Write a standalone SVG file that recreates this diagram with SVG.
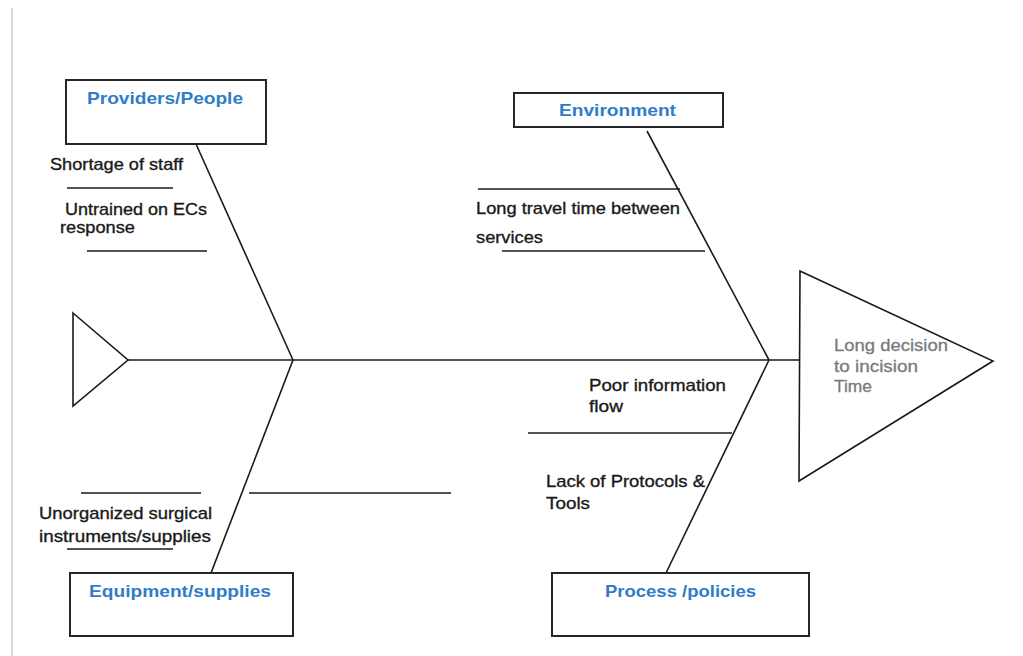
<svg xmlns="http://www.w3.org/2000/svg" width="1023" height="656" viewBox="0 0 1023 656">
<style>
.box{fill:#fff;stroke:#262626;stroke-width:2}
.ln{stroke:#1a1a1a;stroke-width:1.6;fill:none}
.t{font-family:"Liberation Sans",Arial,sans-serif;font-size:17px;fill:#1a1a1a;stroke:#1a1a1a;stroke-width:0.35}
.h{font-family:"Liberation Sans",Arial,sans-serif;font-size:17px;font-weight:bold;fill:#2f7dc6}
.g{font-family:"Liberation Sans",Arial,sans-serif;font-size:17px;fill:#7a7a7a;stroke:#7a7a7a;stroke-width:0.3}
</style>
<rect width="1023" height="656" fill="#fff"/>
<line x1="12" y1="8" x2="12" y2="656" stroke="#d9d9d9" stroke-width="2"/>
<g id="connectors">
<line class="ln" x1="128" y1="360" x2="800" y2="360"/>
<line class="ln" x1="196" y1="144" x2="293" y2="360"/>
<line class="ln" x1="293" y1="360" x2="211" y2="573"/>
<line class="ln" x1="647" y1="131" x2="769" y2="360"/>
<line class="ln" x1="769" y1="360" x2="666" y2="573"/>
<line class="ln" x1="67" y1="188" x2="173" y2="188"/>
<line class="ln" x1="87" y1="251" x2="207" y2="251"/>
<line class="ln" x1="478" y1="189" x2="680" y2="189"/>
<line class="ln" x1="502" y1="251" x2="705" y2="251"/>
<line class="ln" x1="528" y1="433" x2="732" y2="433"/>
<line class="ln" x1="81" y1="493" x2="201" y2="493"/>
<line class="ln" x1="67" y1="549" x2="173" y2="549"/>
<line class="ln" x1="249" y1="493" x2="451" y2="493"/>
</g>
<g id="tail">
<polygon class="ln" points="73,313 128,360 73,406" fill="#fff"/>
</g>
<g id="head">
<polygon class="ln" points="800,271 993,361 799,481" fill="#fff"/>
<text class="g" x="834" y="351" textLength="114" lengthAdjust="spacingAndGlyphs">Long decision</text>
<text class="g" x="834" y="372" textLength="84" lengthAdjust="spacingAndGlyphs">to incision</text>
<text class="g" x="834" y="392" textLength="38" lengthAdjust="spacingAndGlyphs">Time</text>
</g>
<g id="providers">
<rect class="box" x="66" y="80" width="200" height="64"/>
<text class="h" x="87" y="104" textLength="156" lengthAdjust="spacingAndGlyphs">Providers/People</text>
</g>
<g id="environment">
<rect class="box" x="514" y="93" width="209" height="34"/>
<text class="h" x="559" y="116" textLength="117" lengthAdjust="spacingAndGlyphs">Environment</text>
</g>
<g id="equipment">
<rect class="box" x="70" y="573" width="223" height="63"/>
<text class="h" x="89" y="597" textLength="182" lengthAdjust="spacingAndGlyphs">Equipment/supplies</text>
</g>
<g id="process">
<rect class="box" x="552" y="573" width="257" height="63"/>
<text class="h" x="605" y="597" textLength="151" lengthAdjust="spacingAndGlyphs">Process /policies</text>
</g>
<g id="cause-shortage">
<text class="t" x="50" y="170" textLength="133" lengthAdjust="spacingAndGlyphs">Shortage of staff</text>
</g>
<g id="cause-untrained">
<text class="t" x="65" y="215" textLength="142" lengthAdjust="spacingAndGlyphs">Untrained on ECs</text>
<text class="t" x="60" y="233" textLength="75" lengthAdjust="spacingAndGlyphs">response</text>
</g>
<g id="cause-travel">
<text class="t" x="476" y="214" textLength="204" lengthAdjust="spacingAndGlyphs">Long travel time between</text>
<text class="t" x="476" y="243" textLength="67" lengthAdjust="spacingAndGlyphs">services</text>
</g>
<g id="cause-info">
<text class="t" x="589" y="391" textLength="137" lengthAdjust="spacingAndGlyphs">Poor information</text>
<text class="t" x="589" y="412" textLength="34" lengthAdjust="spacingAndGlyphs">flow</text>
</g>
<g id="cause-protocols">
<text class="t" x="546" y="487" textLength="159" lengthAdjust="spacingAndGlyphs">Lack of Protocols &amp;</text>
<text class="t" x="546" y="509" textLength="44" lengthAdjust="spacingAndGlyphs">Tools</text>
</g>
<g id="cause-instruments">
<text class="t" x="39" y="519" textLength="173" lengthAdjust="spacingAndGlyphs">Unorganized surgical</text>
<text class="t" x="39" y="542" textLength="172" lengthAdjust="spacingAndGlyphs">instruments/supplies</text>
</g>
</svg>
